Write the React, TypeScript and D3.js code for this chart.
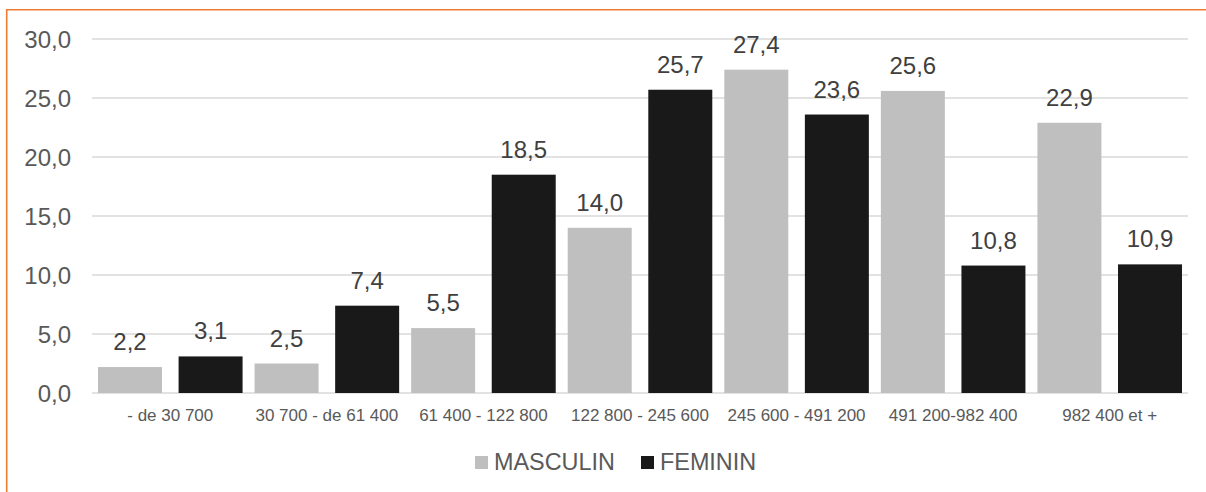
import React from 'react';
import { scaleLinear, scaleBand, format } from 'd3';

const categories = [
  '- de 30 700',
  '30 700 - de 61 400',
  '61 400 - 122 800',
  '122 800 - 245 600',
  '245 600 - 491 200',
  '491 200-982 400',
  '982 400 et +',
];
const series = ['MASCULIN', 'FEMININ'];
const masculin = [2.2, 2.5, 5.5, 14.0, 27.4, 25.6, 22.9];
const feminin = [3.1, 7.4, 18.5, 25.7, 23.6, 10.8, 10.9];
const yTicks = [0, 5, 10, 15, 20, 25, 30];

const colors: Record<string, string> = { MASCULIN: '#bfbfbf', FEMININ: '#191919' };
const font = '"Liberation Sans", Arial, sans-serif';

const W = 1206;
const H = 492;
const plot = { left: 92, right: 1188, top: 39, bottom: 393 };

const fmt = (v: number) => format('.1f')(v).replace('.', ',');

const App: React.FC = () => {
  const y = scaleLinear().domain([0, 30]).range([plot.bottom, plot.top]);
  const x0 = scaleBand().domain(categories).range([plot.left, plot.right]).padding(0);
  const x1 = scaleBand()
    .domain(series)
    .range([6, x0.bandwidth() - 6])
    .paddingInner(0.206)
    .paddingOuter(0);

  const rows = categories.map((c, i) => ({ cat: c, MASCULIN: masculin[i], FEMININ: feminin[i] }));

  return (
    <svg
      width={W}
      height={H}
      style={{ position: 'absolute', left: 0, top: 0, background: '#fff' }}
      fontFamily={font}
    >
      {/* orange frame (only top and left visible) */}
      <line x1={6} x2={W} y1={9.8} y2={9.8} stroke="#ed7d31" strokeWidth={1.6} />
      <line x1={6.7} x2={6.7} y1={9} y2={H} stroke="#ed7d31" strokeWidth={1.6} />

      {/* gridlines + y labels */}
      {yTicks.map((t) => (
        <g key={t}>
          <line x1={plot.left} x2={plot.right} y1={y(t)} y2={y(t)} stroke="#d9d9d9" strokeWidth={1.3} />
          <text x={71} y={y(t)} dy="0.36em" textAnchor="end" fontSize={24} fill="#595959">
            {fmt(t)}
          </text>
        </g>
      ))}

      {/* bars */}
      {rows.map((r) => (
        <g key={r.cat} transform={`translate(${x0(r.cat)},0)`}>
          {series.map((s) => {
            const v = (r as any)[s] as number;
            return (
              <g key={s}>
                <rect
                  x={x1(s)}
                  y={y(v)}
                  width={x1.bandwidth()}
                  height={y(0) - y(v)}
                  fill={colors[s]}
                />
                <text
                  x={x1(s)! + x1.bandwidth() / 2}
                  y={y(v) - 17}
                  textAnchor="middle"
                  fontSize={24}
                  fill="#404040"
                >
                  {fmt(v)}
                </text>
              </g>
            );
          })}
          <text x={x0.bandwidth() / 2} y={421} textAnchor="middle" fontSize={17} fill="#595959">
            {r.cat}
          </text>
        </g>
      ))}

      {/* legend */}
      <g>
        <rect x={475} y={456} width={13} height={13} fill={colors.MASCULIN} />
        <text x={494} y={470} fontSize={23.4} fill="#595959">MASCULIN</text>
        <rect x={641} y={456} width={13} height={13} fill={colors.FEMININ} />
        <text x={660} y={470} fontSize={23.4} fill="#595959">FEMININ</text>
      </g>
    </svg>
  );
};

export default App;
